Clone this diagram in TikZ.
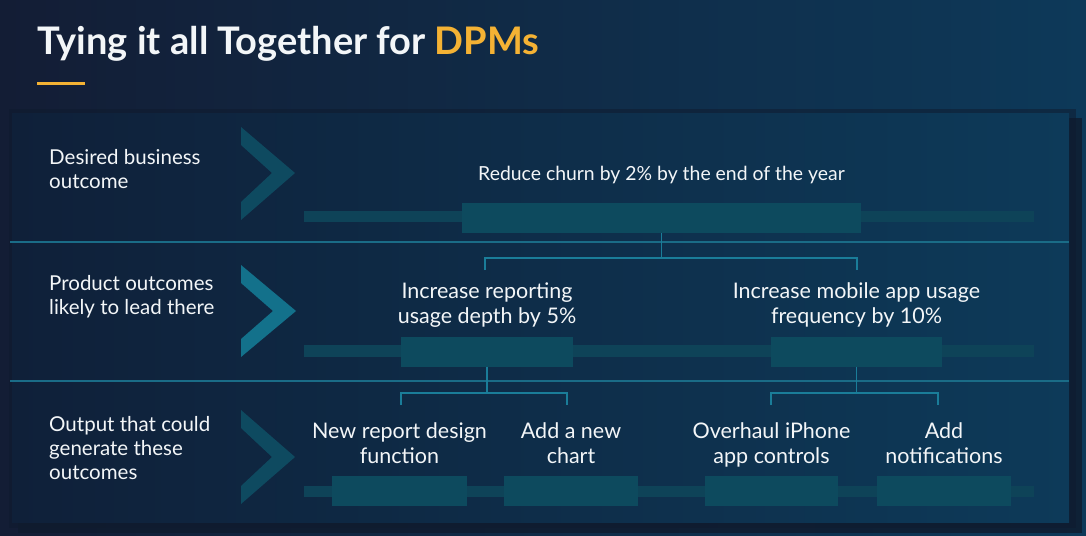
\documentclass[tikz,border=0pt]{standalone}
\usepackage{fontspec}
\setmainfont{Lato}
\usetikzlibrary{positioning}

\definecolor{bgL}{HTML}{131D35}
\definecolor{bgR}{HTML}{0D3959}
\definecolor{panelL}{HTML}{0F2039}
\definecolor{panelR}{HTML}{0D3A59}
\definecolor{shadowC}{HTML}{0F1B2E}
\definecolor{rule}{HTML}{1A6C87}
\definecolor{trackC}{HTML}{0E4358}
\definecolor{boxC}{HTML}{0D4A5E}
\definecolor{chevC}{HTML}{0E4A60}
\definecolor{chevHi}{HTML}{13718B}
\definecolor{linkC}{HTML}{1A7D99}
\definecolor{txt}{HTML}{F3F6F8}
\definecolor{gold}{HTML}{F4B234}

\tikzset{
  rowlabel/.style={anchor=north west, align=left, text=txt, inner sep=0pt,
    font=\fontsize{20.5}{24}\selectfont},
  goaltext/.style={align=center, text=txt, inner sep=0pt,
    font=\fontsize{21.5}{25}\selectfont, execute at end node={\strut}},
  toptext/.style={goaltext, font=\fontsize{19.4}{24}\selectfont},
  barbox/.style={fill=boxC, inner sep=0pt, minimum height=30pt},
  track/.style={fill=trackC},
  link/.style={draw=linkC, line width=1.8pt},
  divider/.style={draw=rule, line width=1.2pt},
}

\begin{document}
\begin{tikzpicture}[x=1pt, y=-1pt]
  \useasboundingbox (0,0) rectangle (1086,535);
  % background and panel
  \shade[left color=bgL, right color=bgR] (0,0) rectangle (1086,535);
  \fill[shadowC, opacity=0.5] (9,109) rectangle (1076,528);
  \fill[shadowC, opacity=0.8] (18,118) rectangle (1082,533);
  \shade[left color=panelL, right color=panelR] (12,113) rectangle (1069,522);

  % title
  \node[anchor=base west, inner sep=0pt, text=txt, font=\fontsize{38}{46}\selectfont\bfseries]
    (title) at (37,55) {Tying it all Together for \textcolor{gold}{DPMs}};
  \fill[gold] (37,81.5) rectangle (85,84.5);

  % dividers
  \draw[divider] (10,242) -- (1069,242);
  \draw[divider] (10,381) -- (1069,381);

  % row labels
  \node[rowlabel] (lab1) at (49,149) {Desired business\\outcome};
  \node[rowlabel] (lab2) at (49,275) {Product outcomes\\likely to lead there};
  \node[rowlabel] (lab3) at (49,416) {Output that could\\generate these\\outcomes};

  % chevrons
  \fill[chevC]  (241,127) -- (295,173) -- (241,220) -- (241,202) -- (272,173) -- (241,145) -- cycle;
  \fill[chevHi] (241,265) -- (296,311) -- (241,357) -- (241,339) -- (273,311) -- (241,283) -- cycle;
  \fill[chevC]  (241,410) -- (295,457) -- (241,504) -- (241,486) -- (272,457) -- (241,428) -- cycle;

  % tracks
  \fill[track] (304,211) rectangle (1034,222);
  \fill[track] (304,345) rectangle (1034,357);
  \fill[track] (304,486) rectangle (1034,497);

  % row 1
  \node[barbox, minimum width=399pt] (goal) at (661.5,218) {};
  \node[toptext, above=15pt of goal] (goalT) {Reduce churn by 2\% by the end of the year};

  % row 2
  \node[barbox, minimum width=172pt] (pA) at (487,351.5) {};
  \node[barbox, minimum width=171pt] (pB) at (856.5,351.5) {};
  \node[goaltext, above=5.5pt of pA] (pAT) {Increase reporting\\usage depth by 5\%};
  \node[goaltext, above=5.5pt of pB] (pBT) {Increase mobile app usage\\frequency by 10\%};

  % row 3
  \node[barbox, minimum width=135pt] (oA) at (399.5,491) {};
  \node[barbox, minimum width=134pt] (oB) at (571,491) {};
  \node[barbox, minimum width=133pt] (oC) at (771.5,491) {};
  \node[barbox, minimum width=134pt] (oD) at (944,491) {};
  \node[goaltext, above=4.5pt of oA] (oAT) {New report design\\function};
  \node[goaltext, above=4.5pt of oB] (oBT) {Add a new\\chart};
  \node[goaltext, above=4.5pt of oC] (oCT) {Overhaul iPhone\\app controls};
  \node[goaltext, above=4.5pt of oD] (oDT) {Add\\notifications};

  % connectors
  \coordinate (j1) at (661.5,258);
  \coordinate (e1) at (485,270);
  \coordinate (e2) at (857,270);
  \draw[link] (goal.south) -- (j1);
  \draw[link] (e1) |- (j1) -| (e2);

  \coordinate (j2) at (487,393);
  \coordinate (f1) at (401,405);
  \coordinate (f2) at (567,405);
  \draw[link] (pA.south) -- (j2);
  \draw[link] (f1) |- (j2) -| (f2);

  \coordinate (j3) at (856.5,393);
  \coordinate (g1) at (771,405);
  \coordinate (g2) at (938,405);
  \draw[link] (pB.south) -- (j3);
  \draw[link] (g1) |- (j3) -| (g2);
\end{tikzpicture}
\end{document}
